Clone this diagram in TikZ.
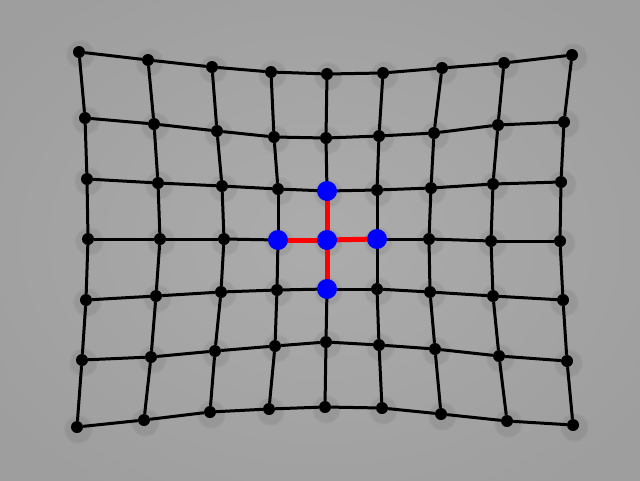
\documentclass[tikz,border=0pt]{standalone}
\usepackage{tikz}
\usetikzlibrary{fadings}

\begin{document}
\begin{tikzpicture}[
      x=1pt, y=-1pt,
      dot/.style={circle, fill=black, inner sep=0pt, minimum size=12pt},
      bigdot/.style={circle, fill=blue, inner sep=0pt, minimum size=20pt},
      blur/.style={black, opacity=0.07, path fading=circle with fuzzy edge 20 percent},
      wire/.style={black, line width=3pt},
      hot/.style={red, line width=5pt}
    ]
    \useasboundingbox (0,0) rectangle (640,480);
    \shade[inner color={rgb,255:red,172;green,172;blue,172},
           outer color={rgb,255:red,158;green,158;blue,158}] (-80,-60) rectangle (720,540);

    % grid points, row by row
    \foreach \row [count=\r from 0] in {
        {79/52,148/60,212/67,271/72,327/74,383/73,442/68,504/63,572/55},
        {85/118,154/124,217/131,274/137,326/138,379/136,434/133,498/125,564/122},
        {87/179,158/183,222/186,278/189,327/191,377/190,431/188,493/184,561/182},
        {88/239,160/239,224/239,278/240,327/240,377/239,429/239,491/241,560/241},
        {86/300,156/296,221/292,277/290,327/289,377/289,430/292,493/296,563/300},
        {82/360,151/357,215/351,275/346,326/342,379/345,435/349,499/356,567/361},
        {77/427,144/420,210/412,269/409,325/407,382/408,441/414,507/421,573/425}}
      \foreach \x/\y [count=\c from 0] in \row {
        \fill[blur] (\x+1,\y+2) circle (15pt);
        \node[dot] (n-\r-\c) at (\x,\y) {};
      }

    % rows
    \foreach \r in {0,...,6}
      \foreach \a/\b in {0/1,1/2,2/3,3/4,4/5,5/6,6/7,7/8}
        \draw[wire] (n-\r-\a) -- (n-\r-\b);
    % columns
    \foreach \c in {0,...,8}
      \foreach \a/\b in {0/1,1/2,2/3,3/4,4/5,5/6}
        \draw[wire] (n-\a-\c) -- (n-\b-\c);

    \draw[hot] (n-3-4) -- (n-2-4);
    \draw[hot] (n-3-4) -- (n-4-4);
    \draw[hot] (n-3-4) -- (n-3-3);
    \draw[hot] (n-3-4) -- (n-3-5);

    \node[bigdot] (mid) at (n-3-4) {};
    \node[bigdot] (up) at (n-2-4) {};
    \node[bigdot] (down) at (n-4-4) {};
    \node[bigdot] (left) at (n-3-3) {};
    \node[bigdot] (right) at (n-3-5) {};
  \end{tikzpicture}
\end{document}
